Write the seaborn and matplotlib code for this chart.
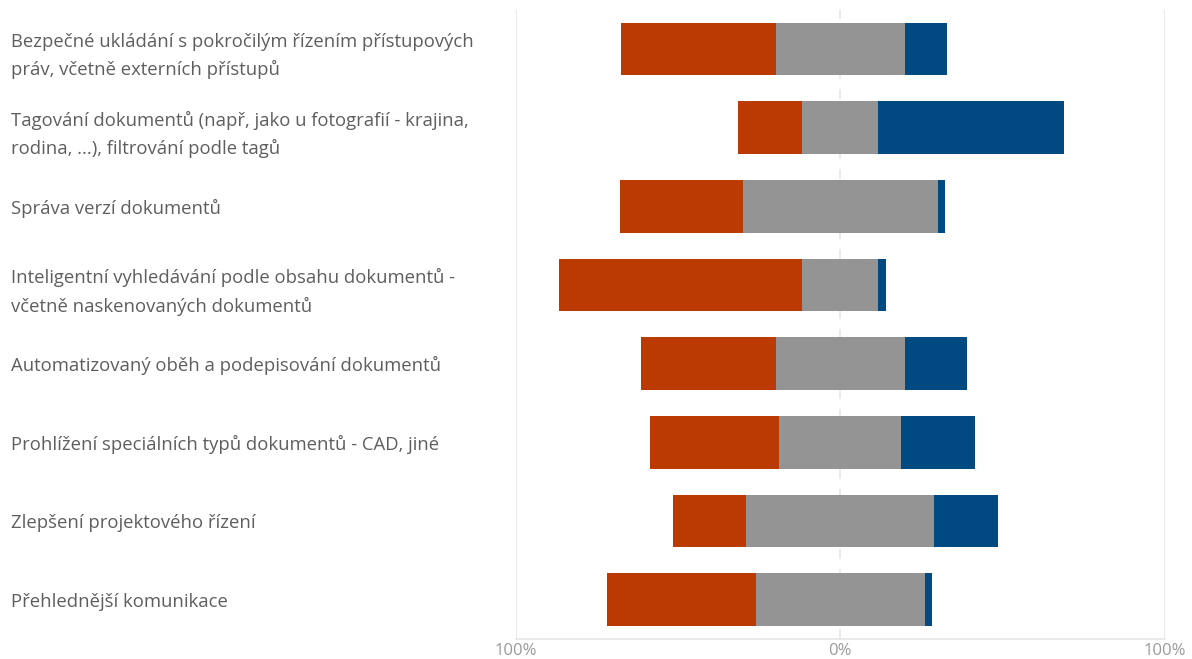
import matplotlib
matplotlib.use("Agg")
import matplotlib.pyplot as plt
import seaborn as sns
import numpy as np
import pandas as pd
from matplotlib.ticker import FuncFormatter

categories = [
    "Bezpečné ukládání s pokročilým řízením přístupových\npráv, včetně externích přístupů",
    "Tagování dokumentů (např, jako u fotografií - krajina,\nrodina, ...), filtrování podle tagů",
    "Správa verzí dokumentů",
    "Inteligentní vyhledávání podle obsahu dokumentů -\nvčetně naskenovaných dokumentů",
    "Automatizovaný oběh a podepisování dokumentů",
    "Prohlížení speciálních typů dokumentů - CAD, jiné",
    "Zlepšení projektového řízení",
    "Přehlednější komunikace",
]
negative = [47.6, 19.7, 37.8, 74.9, 41.5, 39.8, 22.7, 45.9]
neutral = [39.6, 23.5, 59.9, 23.5, 39.6, 37.6, 57.9, 52.0]
positive = [13.1, 57.1, 2.4, 2.3, 19.1, 22.8, 19.7, 2.4]
x_ticks = [-100, 0, 100]

RED = "#BA3A02"
GREY = "#949494"
BLUE = "#004A82"

sns.set_theme(style="white")
plt.rcParams["font.family"] = ["Open Sans", "DejaVu Sans"]

neg = np.array(negative)
neu = np.array(neutral)
pos = np.array(positive)
red_left = -neu / 2 - neg
grey_left = -neu / 2
blue_left = neu / 2

df = pd.DataFrame({"cat": categories, "neg": neg, "neu": neu, "pos": pos})

fig = plt.figure(figsize=(11.92, 6.59), dpi=100)
ax = fig.add_axes([515.5 / 1192, 1 - 639 / 659, (1165 - 515.5) / 1192, (639 - 9.7) / 659])

# grid lines
for xv in (-100, 100):
    ax.axvline(xv, color="#E6E6E6", lw=1.2, zorder=0)
ax.axvline(0, color="#E6E6E6", lw=1.2, ls=(0, (6, 6)), zorder=0)

sns.barplot(data=df, y="cat", x="neg", order=categories, orient="h", color=RED,
            saturation=1, errorbar=None, width=0.67, left=red_left, linewidth=0, ax=ax, zorder=2)
sns.barplot(data=df, y="cat", x="neu", order=categories, orient="h", color=GREY,
            saturation=1, errorbar=None, width=0.67, left=grey_left, linewidth=0, ax=ax, zorder=2)
sns.barplot(data=df, y="cat", x="pos", order=categories, orient="h", color=BLUE,
            saturation=1, errorbar=None, width=0.67, left=blue_left, linewidth=0, ax=ax, zorder=2)

ax.set_xlim(-100, 100)
ax.set_ylim(len(categories) - 0.5, -0.5)
ax.set_xlabel("")
ax.set_ylabel("")
ax.set_xticks(x_ticks)
ax.xaxis.set_major_formatter(FuncFormatter(lambda v, p: f"{abs(int(v))}%"))
ax.tick_params(axis="x", length=0, pad=3, labelsize=12, labelcolor="#9A9A9A")

ax.set_yticks(range(len(categories)))
ax.set_yticklabels(categories, ha="left", fontsize=13.3, color="#5E5E5E", linespacing=1.65)
ax.tick_params(axis="y", length=0, pad=(515.5 - 11) * 0.72)

for s in ["top", "right", "left"]:
    ax.spines[s].set_visible(False)
ax.spines["bottom"].set_color("#E6E6E6")
ax.spines["bottom"].set_linewidth(1.2)

fig.savefig("out.png", dpi=100)
